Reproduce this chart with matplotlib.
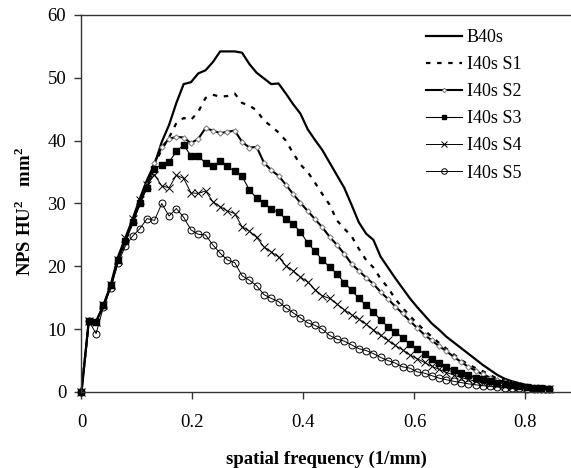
import matplotlib
matplotlib.use('Agg')
import matplotlib.pyplot as plt
from matplotlib.ticker import FuncFormatter

# spatial frequency sampling step (1/mm), one sample per index
step = 0.01315

b40s = [0, 11.3, 11.2, 13.8, 17.0, 21.5, 24.5, 27.5, 30.8, 33.8,
        36.2, 39.8, 42.5, 46.0, 49.0, 49.3, 50.7, 51.2, 52.5, 54.2,
        54.2, 54.2, 54.0, 52.2, 50.8, 49.9, 49.0, 49.1, 47.5, 45.8,
        44.3, 41.8, 40.1, 38.5, 36.5, 34.5, 32.5, 29.8, 27.0, 25.2,
        24.2, 21.5, 19.8, 18.1, 16.5, 14.9, 13.5, 12.2, 10.9, 9.9,
        8.8, 7.9, 7.0, 6.1, 5.2, 4.3, 3.5, 2.7, 2.1, 1.7,
        1.4, 1.1, 0.9, 0.8, 0.7]

s1 = [0, 11.3, 11.2, 13.6, 16.8, 21.0, 24.0, 27.0, 30.0, 33.5,
      36.2, 38.6, 40.5, 42.8, 43.6, 43.3, 44.6, 46.8, 47.3, 47.0,
      47.1, 47.5, 46.0, 45.6, 44.8, 43.2, 42.3, 41.3, 40.0, 38.0,
      36.2, 35.0, 33.3, 31.5, 29.8, 27.3, 26.0, 24.8, 22.8, 21.0,
      19.8, 18.0, 16.6, 14.8, 13.4, 12.1, 10.9, 9.8, 8.8, 7.8,
      6.9, 6.0, 5.1, 4.4, 3.8, 3.3, 2.7, 2.1, 1.8, 1.4,
      1.1, 0.9, 0.8, 0.7, 0.6]

s2 = [0, 11.3, 11.2, 13.7, 16.8, 21.0, 24.0, 27.0, 30.0, 33.0,
      36.5, 39.0, 40.3, 40.6, 40.5, 39.6, 40.3, 42.0, 41.6, 41.2,
      41.4, 41.6, 39.8, 38.9, 39.0, 36.5, 35.3, 34.4, 33.0, 31.5,
      30.1, 28.8, 27.5, 26.2, 24.7, 23.4, 22.0, 20.4, 19.3, 18.2,
      17.2, 15.9, 14.8, 13.6, 12.5, 11.3, 10.2, 9.1, 8.2, 7.3,
      6.5, 5.6, 4.8, 4.0, 3.4, 2.8, 2.3, 1.9, 1.6, 1.3,
      1.1, 0.9, 0.8, 0.7, 0.6]

s3 = [0, 11.3, 11.2, 13.8, 17.0, 21.0, 24.0, 27.0, 30.0, 32.5,
      35.5, 36.2, 36.6, 38.3, 39.3, 37.6, 37.6, 36.4, 36.0, 36.7,
      35.9, 35.1, 34.3, 32.2, 30.8, 30.0, 29.1, 28.6, 27.5, 26.7,
      25.5, 23.7, 22.4, 21.0, 19.9, 18.8, 17.4, 16.2, 14.9, 13.8,
      12.8, 11.4, 10.4, 9.6, 8.6, 7.6, 6.9, 6.0, 5.2, 4.6,
      4.0, 3.5, 3.1, 2.7, 2.3, 2.0, 1.7, 1.5, 1.3, 1.1,
      0.9, 0.8, 0.7, 0.6, 0.5]

s4 = [0, 11.3, 11.2, 13.8, 17.0, 21.0, 24.5, 27.5, 30.5, 33.0,
      34.6, 32.8, 32.5, 34.5, 34.0, 31.7, 31.6, 32.0, 30.3, 29.5,
      28.8, 28.4, 26.3, 25.6, 24.6, 23.1, 22.3, 21.5, 20.1, 19.3,
      18.3, 17.5, 16.3, 15.3, 14.9, 14.0, 13.1, 12.3, 11.6, 10.8,
      9.9, 9.0, 8.2, 7.4, 6.7, 5.9, 5.3, 4.7, 4.1, 3.6,
      3.1, 2.7, 2.3, 2.0, 1.7, 1.5, 1.3, 1.1, 0.95, 0.85,
      0.75, 0.7, 0.6, 0.55, 0.5]

s5 = [0, 11.3, 9.3, 13.5, 16.5, 20.5, 23.2, 24.8, 26.0, 27.6,
      27.3, 30.0, 28.0, 29.2, 27.8, 25.8, 25.1, 25.0, 23.4, 22.1,
      21.0, 20.6, 18.5, 17.8, 16.9, 15.5, 14.9, 14.4, 13.4, 12.6,
      11.8, 11.0, 10.6, 10.0, 9.0, 8.4, 8.1, 7.5, 6.9, 6.6,
      6.1, 5.5, 5.0, 4.6, 4.0, 3.8, 3.2, 3.0, 2.6, 2.2,
      1.95, 1.7, 1.5, 1.3, 1.15, 1.0, 0.9, 0.8, 0.7, 0.65,
      0.6, 0.55, 0.5, 0.45, 0.4]

labels = ['B40s', 'I40s S1', 'I40s S2', 'I40s S3', 'I40s S4', 'I40s S5']
x_ticks = [0, 0.2, 0.4, 0.6, 0.8]
y_ticks = [0, 10, 20, 30, 40, 50, 60]


def main():
	'''draw the NPS curves'''

	plt.rcParams['font.family'] = ['Liberation Serif', 'DejaVu Serif']
	plt.rcParams['mathtext.fontset'] = 'custom'
	plt.rcParams['mathtext.rm'] = 'Liberation Serif:bold'
	plt.rcParams['mathtext.bf'] = 'Liberation Serif:bold'

	freq = [i * step for i in range(len(b40s))]

	fig = plt.figure(figsize=(5.71, 4.68), dpi=100)
	ax = fig.add_axes([0.1427, 0.1624, 0.8573, 0.8056])

	ax.plot(freq, b40s, color='black', linewidth=1.6, label=labels[0], clip_on=False)
	ax.plot(freq, s1, color='black', linewidth=1.6, linestyle=(0, (2.0, 3.0)),
		label=labels[1], clip_on=False)
	ax.plot(freq, s2, color='black', linewidth=1.5, marker='D', markersize=2.8,
		markerfacecolor='white', markeredgecolor='#777777', markeredgewidth=0.7,
		label=labels[2], clip_on=False)
	ax.plot(freq, s3, color='black', linewidth=0.8, marker='s', markersize=4.2,
		markerfacecolor='black', label=labels[3], clip_on=False)
	ax.plot(freq, s4, color='black', linewidth=0.7, marker='x', markersize=5.5,
		markeredgewidth=0.7, label=labels[4], clip_on=False)
	ax.plot(freq, s5, color='black', linewidth=0.7, marker='o', markersize=5,
		markerfacecolor='none', markeredgewidth=0.7, label=labels[5], clip_on=False)

	ax.set_xlim(0, 0.882)
	ax.set_ylim(0, 60)
	ax.set_xticks(x_ticks)
	ax.set_yticks(y_ticks)
	ax.xaxis.set_major_formatter(FuncFormatter(lambda v, p: '0' if v == 0 else f'{v:g}'))

	ax.spines['right'].set_visible(False)
	for side in ['left', 'bottom', 'top']:
		ax.spines[side].set_linewidth(1.0)
		ax.spines[side].set_color('#333333')
	ax.tick_params(direction='out', length=5, width=1.0, colors='#333333',
		labelsize=13.5, labelcolor='black')
	ax.tick_params(axis='x', pad=11)
	ax.tick_params(axis='y', pad=6)

	ax.set_xlabel('spatial frequency (1/mm)', fontsize=13.5, fontweight='bold', labelpad=14)
	ax.set_ylabel('NPS HU$^{2}$   mm$^{2}$', fontsize=13.5, fontweight='bold')
	ax.yaxis.set_label_coords(-0.095, 0.48)

	ax.legend(loc='upper left', bbox_to_anchor=(426 / 571, 1 - 29 / 468),
		bbox_transform=fig.transFigure, frameon=False, fontsize=13,
		handlelength=2.0, handletextpad=0.25, labelspacing=0.56,
		borderpad=0, borderaxespad=0, markerscale=0.8)

	fig.savefig('out.png', dpi=100)


if __name__ == '__main__':
	main()
